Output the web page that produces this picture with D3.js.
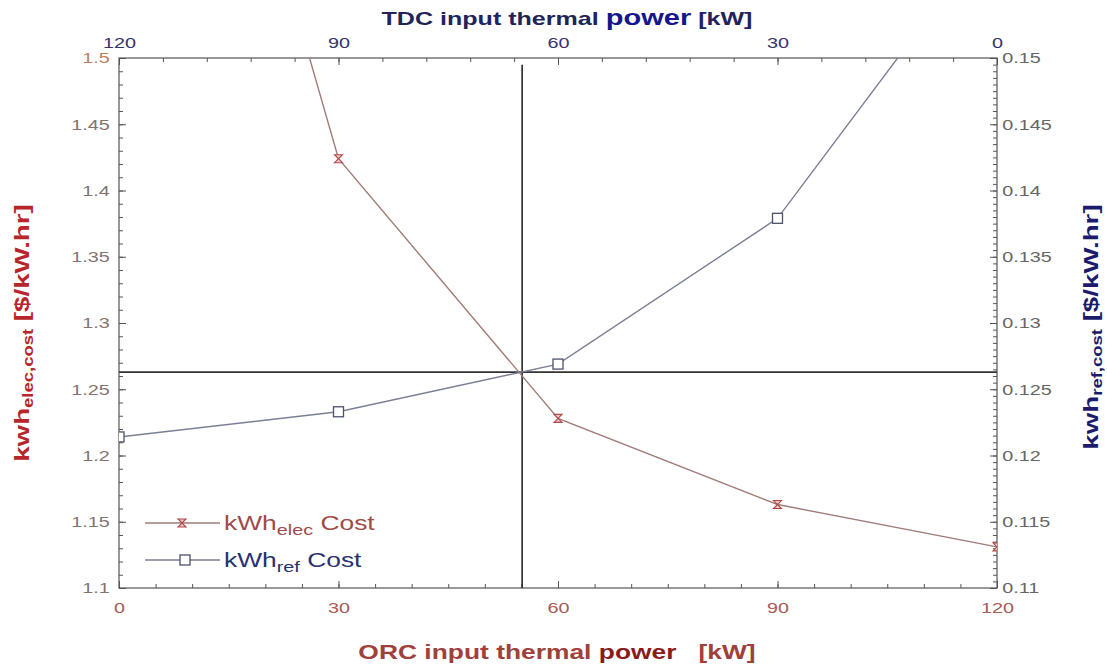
<!DOCTYPE html>
<html lang="en">
<head>
    <meta charset="UTF-8">
    <title>ORC / TDC cost</title>
    <script src="https://cdn.jsdelivr.net/npm/d3@7"></script>
    <style>
        body { margin: 0; background: #fff; }
        text { font-family: "Liberation Sans", Arial, sans-serif; }
    </style>
</head>
<body>
    <div id="chart-space"></div>

    <script>
        // data
        var orcPower = [0, 30, 60, 90, 120];
        var elecCost = [2.0, 1.424, 1.228, 1.163, 1.131];
        var refCost = [0.1214, 0.1233, 0.1269, 0.1379, 0.160];
        var crossPower = 55.1;
        var crossElec = 1.2629;
        var crossTop = 1.495;

        var bottomTicks = [0, 30, 60, 90, 120];
        var topTicks = [120, 90, 60, 30, 0];
        var leftTicks = [1.1, 1.15, 1.2, 1.25, 1.3, 1.35, 1.4, 1.45, 1.5];
        var rightTicks = [0.11, 0.115, 0.12, 0.125, 0.13, 0.135, 0.14, 0.145, 0.15];

        var width = 1107;
        var height = 664;
        var margin = {top: 58, right: 110, bottom: 76, left: 119};
        var chartWidth = width - margin.left - margin.right;
        var chartHeight = height - margin.top - margin.bottom;
        var stretch = 1.32;

        var svg = d3.select("#chart-space")
            .append("svg")
            .attr("width", width)
            .attr("height", height);

        var g = svg.append("g")
            .attr("transform", "translate(" + margin.left + "," + margin.top + ")");

        var xScale = d3.scaleLinear().domain([0, 120]).range([0, chartWidth]);
        var tdcScale = d3.scaleLinear().domain([120, 0]).range([0, chartWidth]);
        var yLeft = d3.scaleLinear().domain([1.1, 1.5]).range([chartHeight, 0]);
        var yRight = d3.scaleLinear().domain([0.11, 0.15]).range([chartHeight, 0]);

        g.append("clipPath").attr("id", "plot-clip")
            .append("rect").attr("width", chartWidth).attr("height", chartHeight);

        // minor ticks
        function minorAxis(axis, values) {
            return axis.tickValues(values).tickSize(-4).tickFormat("");
        }
        g.append("g").attr("class", "axis minor")
            .attr("transform", "translate(0," + chartHeight + ")")
            .call(minorAxis(d3.axisBottom(xScale), d3.range(0, 121, 5)));
        g.append("g").attr("class", "axis minor")
            .call(minorAxis(d3.axisTop(tdcScale), d3.range(0, 121, 6)));
        g.append("g").attr("class", "axis minor")
            .call(minorAxis(d3.axisLeft(yLeft), d3.range(110, 151, 1).map(function(v) { return v / 100; })));
        g.append("g").attr("class", "axis minor")
            .attr("transform", "translate(" + chartWidth + ",0)")
            .call(minorAxis(d3.axisRight(yRight), d3.range(220, 301, 1).map(function(v) { return v / 2000; })));

        // major ticks + labels
        var bottomAxis = g.append("g").attr("class", "axis major bottom")
            .attr("transform", "translate(0," + chartHeight + ")")
            .call(d3.axisBottom(xScale).tickValues(bottomTicks).tickSize(-7).tickPadding(14));
        var topAxis = g.append("g").attr("class", "axis major top")
            .call(d3.axisTop(tdcScale).tickValues(topTicks).tickSize(-7).tickPadding(10));
        var leftAxis = g.append("g").attr("class", "axis major left")
            .call(d3.axisLeft(yLeft).tickValues(leftTicks).tickSize(-7).tickPadding(7)
                .tickFormat(function(d) { return +d.toFixed(2); }));
        var rightAxis = g.append("g").attr("class", "axis major right")
            .attr("transform", "translate(" + chartWidth + ",0)")
            .call(d3.axisRight(yRight).tickValues(rightTicks).tickSize(-7).tickPadding(4)
                .tickFormat(function(d) { return +d.toFixed(3); }));

        g.selectAll(".axis .domain").remove();
        g.selectAll(".axis line").attr("stroke", "#555").attr("stroke-width", 1);
        g.selectAll(".axis.major text")
            .attr("font-size", 15)
            .attr("font-family", "Liberation Sans, Arial, sans-serif")
            .attr("transform", "scale(" + stretch + ",1)");
        bottomAxis.selectAll("text").attr("fill", "#a85a55");
        topAxis.selectAll("text").attr("fill", "#33336e");
        leftAxis.selectAll("text").attr("fill", "#857370");
        leftAxis.selectAll("text").filter(function(d) { return d === 1.5; }).attr("fill", "#c0805a");
        rightAxis.selectAll("text").attr("fill", "#666");

        // frame
        g.append("rect")
            .attr("width", chartWidth)
            .attr("height", chartHeight)
            .attr("fill", "none")
            .attr("stroke", "#555")
            .attr("stroke-width", 1.2);

        // crosshair
        g.append("line")
            .attr("x1", 0).attr("x2", chartWidth)
            .attr("y1", yLeft(crossElec)).attr("y2", yLeft(crossElec))
            .attr("stroke", "#333").attr("stroke-width", 1.7);
        g.append("line")
            .attr("x1", xScale(crossPower)).attr("x2", xScale(crossPower))
            .attr("y1", yLeft(crossTop)).attr("y2", chartHeight)
            .attr("stroke", "#333").attr("stroke-width", 1.7);

        // series
        var elecData = orcPower.map(function(p, i) { return {x: p, y: elecCost[i]}; });
        var refData = orcPower.map(function(p, i) { return {x: p, y: refCost[i]}; });
        var hourglass = "M-4,-4L4,-4L-4,4L4,4Z";

        var plot = g.append("g").attr("clip-path", "url(#plot-clip)");

        plot.append("path")
            .datum(elecData)
            .attr("fill", "none")
            .attr("stroke", "#a07c78")
            .attr("stroke-width", 1.4)
            .attr("d", d3.line()
                .x(function(d) { return xScale(d.x); })
                .y(function(d) { return yLeft(d.y); }));

        plot.append("path")
            .datum(refData)
            .attr("fill", "none")
            .attr("stroke", "#7a7f96")
            .attr("stroke-width", 1.4)
            .attr("d", d3.line()
                .x(function(d) { return xScale(d.x); })
                .y(function(d) { return yRight(d.y); }));

        plot.selectAll(".elec-mark")
            .data(elecData)
            .join("path")
            .attr("class", "elec-mark")
            .attr("transform", function(d) { return "translate(" + xScale(d.x) + "," + yLeft(d.y) + ")"; })
            .attr("d", hourglass)
            .attr("fill", "#e8c8c8")
            .attr("stroke", "#b04848")
            .attr("stroke-width", 1.1);

        plot.selectAll(".ref-mark")
            .data(refData)
            .join("rect")
            .attr("class", "ref-mark")
            .attr("x", function(d) { return xScale(d.x) - 5; })
            .attr("y", function(d) { return yRight(d.y) - 5; })
            .attr("width", 10)
            .attr("height", 10)
            .attr("fill", "#fff")
            .attr("stroke", "#4d526c")
            .attr("stroke-width", 1.3);

        // stretched text helper
        function label(parent, x, y, rotate, anchor) {
            var t = "translate(" + x + "," + y + ")" + (rotate ? " rotate(" + rotate + ")" : "") +
                " scale(" + stretch + ",1)";
            return parent.append("g").attr("transform", t)
                .append("text")
                .attr("text-anchor", anchor || "middle");
        }

        // legend
        var legendItems = [
            {name: "kWh", sub: "elec", color: "#a04a48", line: "#a07c78", mark: "hourglass", y: 465},
            {name: "kWh", sub: "ref", color: "#2a3070", line: "#7a7f96", mark: "square", y: 502}
        ];
        legendItems.forEach(function(item) {
            g.append("line")
                .attr("x1", 26).attr("x2", 101)
                .attr("y1", item.y).attr("y2", item.y)
                .attr("stroke", item.line).attr("stroke-width", 1.4);
            if (item.mark === "hourglass") {
                g.append("path")
                    .attr("transform", "translate(63," + item.y + ")")
                    .attr("d", hourglass)
                    .attr("fill", "#e8c8c8").attr("stroke", "#b04848").attr("stroke-width", 1.1);
            } else {
                g.append("rect")
                    .attr("x", 61).attr("y", item.y - 5)
                    .attr("width", 10).attr("height", 10)
                    .attr("fill", "#fff").attr("stroke", "#4d526c").attr("stroke-width", 1.3);
            }
            var t = label(g, 105, item.y + 7, 0, "start")
                .attr("font-size", 20)
                .attr("fill", item.color);
            t.append("tspan").text(item.name);
            t.append("tspan").attr("font-size", 15).attr("dy", 5).text(item.sub);
            t.append("tspan").attr("dy", -5).text(" Cost");
        });

        // axis titles
        var bt = label(svg, 557, 659, 0, "middle")
            .attr("font-size", 20).attr("font-weight", "bold").attr("fill", "#a0403c");
        bt.append("tspan").text("ORC input thermal ");
        bt.append("tspan").attr("fill", "#8b1a1a").text("power");
        bt.append("tspan").text("\u00a0\u00a0 [kW]");

        var tt = label(svg, 567, 25, 0, "middle")
            .attr("font-size", 19).attr("font-weight", "bold").attr("fill", "#23235c");
        tt.append("tspan").text("TDC input thermal ");
        tt.append("tspan").attr("fill", "#16168a").attr("font-size", 22).text("power");
        tt.append("tspan").text(" [kW]");

        var lt = label(svg, 29, 333, -90, "middle")
            .attr("font-size", 21).attr("font-weight", "bold").attr("fill", "#b8252a");
        lt.append("tspan").text("kwh");
        lt.append("tspan").attr("font-size", 14).attr("dy", 4).text("elec,cost");
        lt.append("tspan").attr("dy", -4).text(" [$/kW.hr]");

        var rt = label(svg, 1098, 327, -90, "middle")
            .attr("font-size", 21).attr("font-weight", "bold").attr("fill", "#1c1c6b");
        rt.append("tspan").text("kwh");
        rt.append("tspan").attr("font-size", 14).attr("dy", 4).text("ref,cost");
        rt.append("tspan").attr("dy", -4).text(" [$/kW.hr]");
    </script>
</body>
</html>
